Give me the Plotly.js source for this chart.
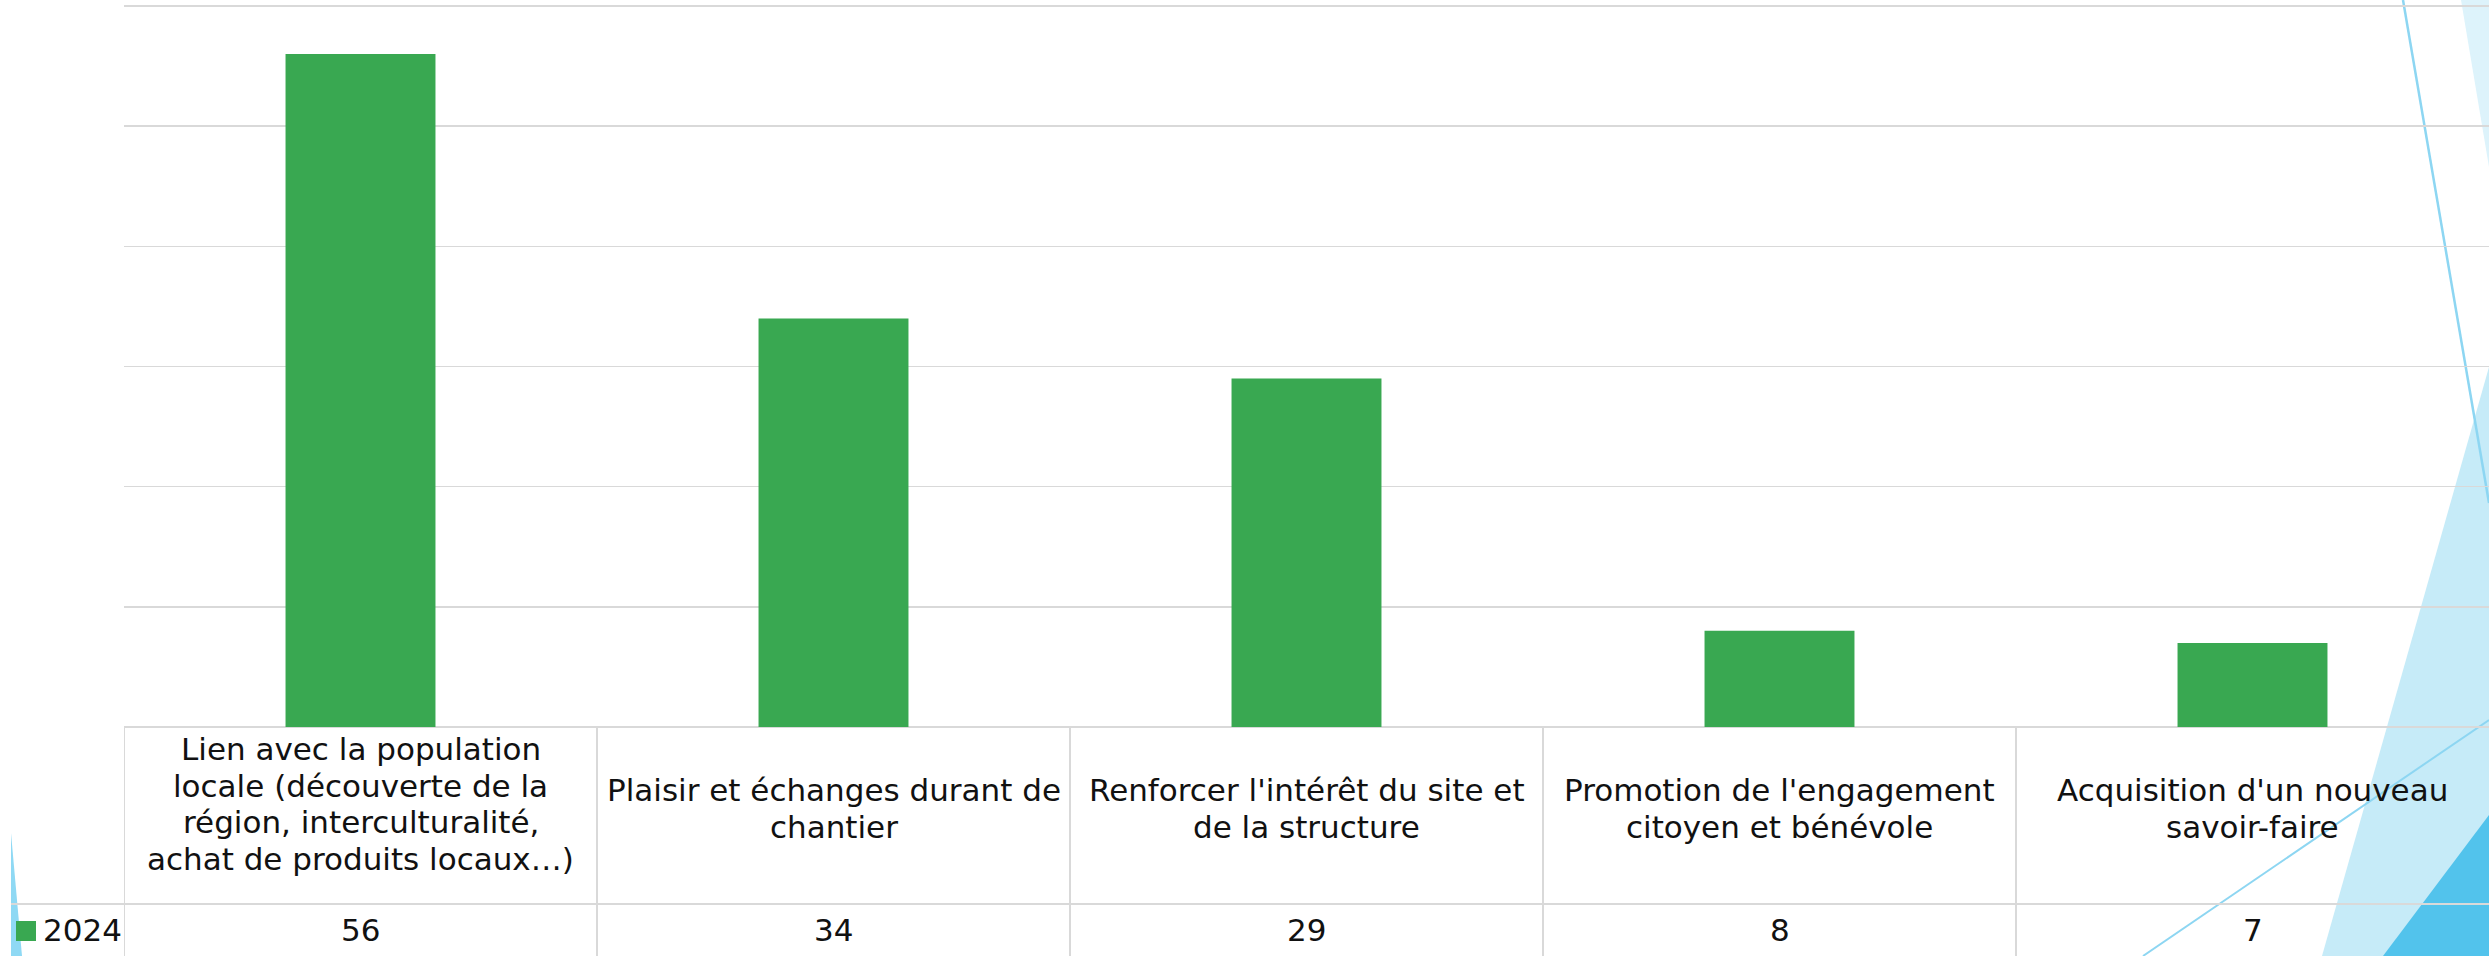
<!DOCTYPE html>
<html>
<head>
<meta charset="utf-8">
<script src="https://cdn.plot.ly/plotly-3.0.1.min.js"></script>
<style>html,body{margin:0;padding:0;background:#fff;}#chart{width:2489px;height:956px;}</style>
</head>
<body>
<div id="chart"></div>
<script>
// ---- Data ----
const categories = [
  "Lien avec la population<br>locale (découverte de la<br>région, interculturalité,<br>achat de produits locaux…)",
  "Plaisir et échanges durant de<br>chantier",
  "Renforcer l'intérêt du site et<br>de la structure",
  "Promotion de l'engagement<br>citoyen et bénévole",
  "Acquisition d'un nouveau<br>savoir-faire"
];
const categoryKeys = ["c1", "c2", "c3", "c4", "c5"];
const seriesName = "2024";
const values2024 = [56, 34, 29, 8, 7];

// ---- Layout helpers (pixels -> paper) ----
const W = 2489, H = 956, L = 124, R = 0, T = 3, B = 229;
const pw = W - L - R, ph = H - T - B;
const yMax = 60 * ph / 721;           // keeps the 60 gridline at ~6px from the top
const px = x => (x - L) / pw;
const py = y => (H - B - y) / ph;

const green = "#39a851";
const gridCol = "#d9d9d9";
const textCol = "#111111";
const fontFam = "'DejaVu Sans', 'Open Sans', sans-serif";
const fs = 31;

function poly(pts, fill) {
  return {
    type: "path", xref: "paper", yref: "paper", layer: "below",
    path: "M" + pts.map(p => px(p[0]) + "," + py(p[1])).join(" L") + " Z",
    fillcolor: fill, line: {width: 0}
  };
}
function seg(x0, y0, x1, y1, col, w) {
  return {type: "line", xref: "paper", yref: "paper", layer: "below",
    x0: px(x0), y0: py(y0), x1: px(x1), y1: py(y1), line: {color: col, width: w}};
}

const shapes = [
  // decorative theme shapes
  poly([[2489, 367], [2322, 956], [2489, 956]], "#c6ebf8"),
  poly([[2461, 0], [2489, 0], [2489, 167]], "#ddf3fb"),
  poly([[2489, 815], [2383, 956], [2489, 956]], "#52c3ec"),
  poly([[11, 833], [22, 956], [11, 956]], "#8fd9f4"),
  seg(2403, 0, 2489, 503, "#8dd6f2", 2.5),
  seg(2143, 956, 2489, 720, "#8dd6f2", 2),
  // data table
  seg(124, 727, 2489, 727, gridCol, 2),
  seg(11, 904, 2489, 904, gridCol, 2),
  // legend key
  {type: "rect", xref: "paper", yref: "paper", layer: "above",
   x0: px(16), x1: px(36), y0: py(941), y1: py(921), fillcolor: green, line: {width: 0}}
];
categoryKeys.forEach((k, i) => {
  shapes.push({type: "line", xref: "x", yref: "paper", layer: "below",
    x0: i - 0.5, x1: i - 0.5, y0: py(727), y1: py(956), line: {color: gridCol, width: 2}});
});

const annotations = [];
const lineStep = 36.6;
categoryKeys.forEach((k, i) => {
  const lines = categories[i].split("<br>");
  const n = lines.length;
  const c = 808.6 - (n - 2) * 2.3;
  lines.forEach((t, j) => {
    annotations.push({xref: "x", yref: "paper", x: i, y: py(c + (j - (n - 1) / 2) * lineStep),
      xanchor: "center", yanchor: "middle", text: t, showarrow: false,
      font: {family: fontFam, size: fs, color: textCol}});
  });
  annotations.push({xref: "x", yref: "paper", x: i, y: py(930), xanchor: "center", yanchor: "middle",
    text: String(values2024[i]), showarrow: false, font: {family: fontFam, size: fs, color: textCol}});
});
annotations.push({xref: "paper", yref: "paper", x: px(41), y: py(930), xanchor: "left", yanchor: "middle",
  text: seriesName, showarrow: false, font: {family: fontFam, size: fs, color: textCol}});

const trace = {
  type: "bar",
  x: categoryKeys,
  y: values2024,
  name: seriesName,
  marker: {color: green},
  hoverinfo: "y"
};

const layout = {
  width: W, height: H,
  margin: {l: L, r: R, t: T, b: B, pad: 0},
  paper_bgcolor: "#ffffff",
  plot_bgcolor: "rgba(0,0,0,0)",
  showlegend: false,
  bargap: 0.683,
  xaxis: {type: "category", range: [-0.5, 4.5], showticklabels: false, showgrid: false,
          zeroline: false, showline: false, ticks: ""},
  yaxis: {range: [0, yMax], dtick: 10, showticklabels: false, showgrid: true, gridcolor: gridCol,
          gridwidth: 1.5, zeroline: false, showline: false, ticks: ""},
  shapes: shapes,
  annotations: annotations
};

Plotly.newPlot("chart", [trace], layout, {displayModeBar: false, staticPlot: true});
</script>
</body>
</html>
